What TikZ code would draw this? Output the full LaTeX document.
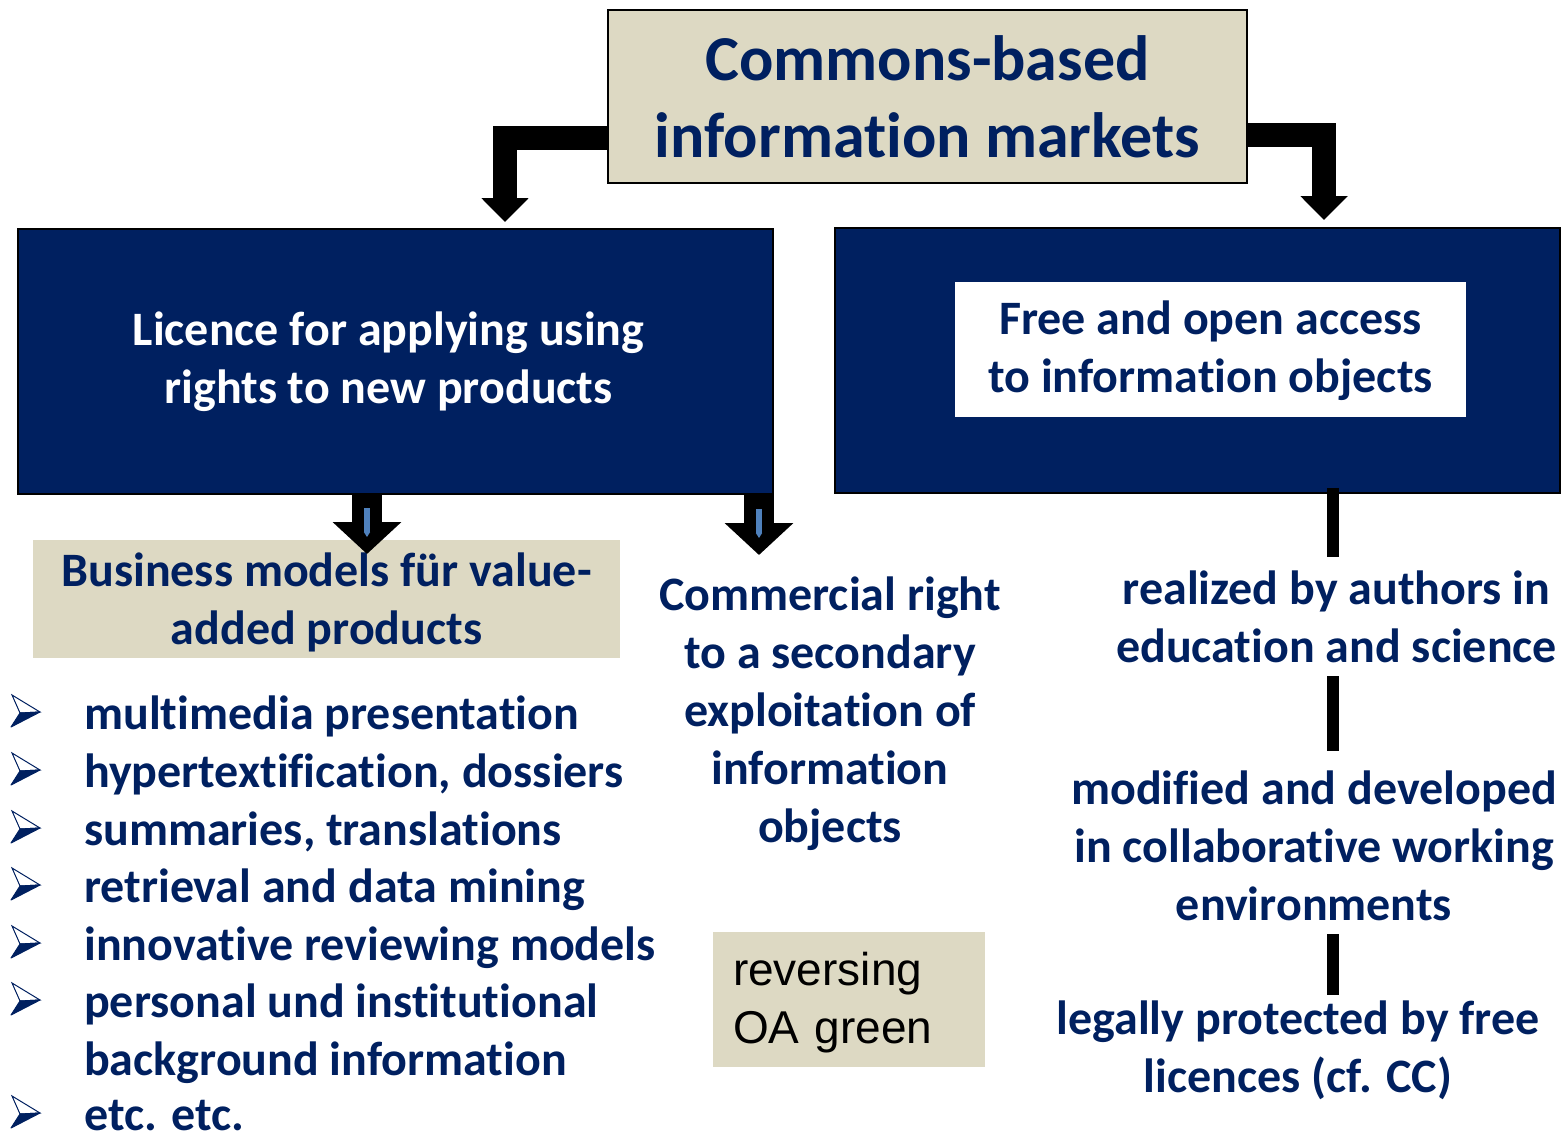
\documentclass[tikz,border=0pt]{standalone}
\usepackage{fontspec}
\setmainfont[Ligatures=NoCommon]{Carlito}
\newfontfamily\arialfont{Liberation Sans}
\usetikzlibrary{arrows.meta,positioning}
\definecolor{navy}{RGB}{0,32,96}
\definecolor{tan}{RGB}{221,217,195}
\definecolor{steel}{RGB}{79,129,189}

\begin{document}
\begin{tikzpicture}[x=1pt, y=-1pt,
  big/.style={font=\bfseries\fontsize{64}{77}\selectfont, text=navy, align=center},
  body/.style={font=\bfseries\fontsize{48}{58}\selectfont, text=navy, align=center, inner sep=0pt},
  bigarrow/.style={line width=24pt, -{Triangle[length=24pt,width=46pt]}},
  smallarrow/.style={line width=30pt, -{Triangle[length=32pt,width=67pt]}},
  innerarrow/.style={steel, line width=6pt, -{Triangle[length=5pt,width=6pt]}},
  bar/.style={line width=12pt},
  bull/.pic={
    \filldraw[fill=white, draw=navy, line width=1pt] (12,-34) -- (40,-17) -- (20,-16) -- cycle;
    \filldraw[navy, line width=1pt, line join=round] (20,-16) -- (40,-17) -- (11,-2) -- cycle;
  }]
\useasboundingbox (0,0) rectangle (1564,1135);

\node[big, draw=black, line width=2pt, fill=tan, minimum width=639, minimum height=173] (1) at (927.5,96.5) {Commons-based\\information markets};

\node[body, text=white, draw=black, line width=1.5pt, fill=navy, minimum width=755, minimum height=265] (2) at (395.5,361.5) {Licence for applying using\hspace*{14pt}\\rights to new products\hspace*{14pt}};
\node[draw=black, line width=1.5pt, fill=navy, minimum width=725, minimum height=265] (6) at (1197.5,360.5) {};
\node[body, fill=white, minimum width=511, minimum height=135] (7) at (1210.5,349.5) {\rule{0pt}{37pt}Free and open access\\to information objects};

\node[body, fill=tan, minimum width=587, minimum height=118] (3) at (326.5,599) {\rule{0pt}{40pt}Business models für value-\\added products};
\node[body] (4) at (830,713.5) {Commercial right\\to a secondary\\exploitation of\\information\\objects};
\node[fill=tan, minimum width=272, minimum height=135, text width=232, inner xsep=20pt, inner ysep=0pt, align=left, font=\arialfont\fontsize{46}{58}\selectfont] (5) at (849,999.5) {\rule{0pt}{40pt}reversing\\OA green};

\node[body] (8) at (1336.5,617) {realized by authors in\\education and science};
\node[body] (9) at (1314,846) {modified and developed\\in collaborative working\\environments};
\node[body] (10) at (1298,1050) {legally protected by free\\licences (cf. CC)};

% bullet list
\foreach \yb/\txt in {729/multimedia presentation, 787/{hypertextification, dossiers}, 845/{summaries, translations}, 902/retrieval and data mining, 960/innovative reviewing models, 1017/personal und institutional, 1130/etc. etc.}{
  \pic at (0,\yb) {bull};
  \node[body, anchor=base west] (i\yb) at (84,\yb) {\txt};
}
\node[body, anchor=base west] (i1075) at (84,1075) {background information};

% arrows
\coordinate (t1) at (505,222);
\coordinate (t2) at (1324,220);
\coordinate (t3) at (367,554);
\coordinate (t4) at (759,555);
\draw[bigarrow] ([yshift=-41pt]1.west) -| (t1);
\draw[bigarrow] ([yshift=-38.5pt]1.east) -| (t2);
\draw[smallarrow] (2.south -| t3) -- (t3);
\draw[smallarrow] (2.south -| t4) -- (t4);
\draw[innerarrow] ([yshift=46pt]t3) -- ([yshift=17pt]t3);
\draw[innerarrow] ([yshift=46pt]t4) -- ([yshift=17pt]t4);

% right column
\coordinate (rx) at (1333,0);
\draw[bar, shorten >=14pt] ([yshift=6pt]6.south -| rx) -- (8.north -| rx);
\draw[bar, shorten <=13pt, shorten >=20pt] (8.south -| rx) -- (9.north -| rx);
\draw[bar, shorten <=13pt, shorten >=5pt] (9.south -| rx) -- (10.north -| rx);
\end{tikzpicture}
\end{document}
